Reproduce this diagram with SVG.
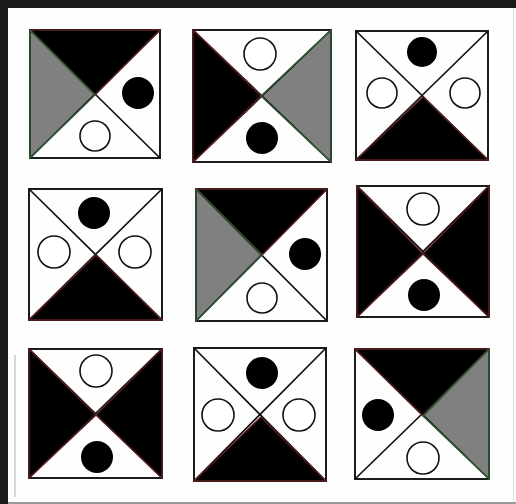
<svg xmlns="http://www.w3.org/2000/svg" width="516" height="504" viewBox="0 0 516 504">
<style>
.k{fill:#000}
.g{fill:#808080}
.w{fill:#fff}
.frame{fill:none;stroke:#111;stroke-width:1.9}
.d{stroke:#111;stroke-width:1.7;fill:none}
.kb{fill:none;stroke:#5a1c1c;stroke-width:1.4;stroke-linejoin:round}
.gb{fill:none;stroke:#2f5e35;stroke-width:1.4;stroke-linejoin:round}
.cw{fill:#fff;stroke:#111;stroke-width:1.6}
.cb{fill:#000}
</style>
<rect x="0" y="0" width="516" height="504" fill="#1b1b1b"/>
<rect x="8" y="8" width="508" height="494" fill="#fefefe"/>
<rect x="8" y="502" width="508" height="2" fill="#9a9a9a"/>
<line x1="513.5" y1="9" x2="513.5" y2="502" stroke="#e2e2e2" stroke-width="1"/>
<line x1="15" y1="355" x2="15" y2="497" stroke="#b0b0b0" stroke-width="1"/>

<g id="sq1">
<polygon class="k" points="30,30 160,30 95,95"/>
<polygon class="g" points="30,158 30,30 95,95"/>
<rect class="frame" x="30" y="30" width="130" height="128"/>
<path class="d" d="M30,30L160,158M160,30L30,158"/>
<polygon class="kb" points="30,30 160,30 95,95"/>
<polygon class="gb" points="30,158 30,30 95,95"/>
<circle class="cb" cx="138" cy="93" r="16"/>
<circle class="cw" cx="95" cy="136" r="15"/>
</g>

<g id="sq2">
<polygon class="k" points="193,30 193,162 261,96"/>
<polygon class="g" points="331,30 331,162 261,96"/>
<rect class="frame" x="193" y="30" width="138" height="132"/>
<path class="d" d="M193,30L331,162M331,30L193,162"/>
<polygon class="kb" points="193,30 193,162 261,96"/>
<polygon class="gb" points="331,30 331,162 261,96"/>
<circle class="cw" cx="260" cy="54" r="16"/>
<circle class="cb" cx="262" cy="138" r="16"/>
</g>

<g id="sq3">
<polygon class="k" points="356,160 488,160 423,97"/>
<rect class="frame" x="356" y="31" width="132" height="129"/>
<path class="d" d="M356,31L488,160M488,31L356,160"/>
<polygon class="kb" points="356,160 488,160 423,97"/>
<circle class="cb" cx="422" cy="52" r="15"/>
<circle class="cw" cx="382" cy="93" r="15"/>
<circle class="cw" cx="465" cy="93" r="15"/>
</g>

<g id="sq4">
<polygon class="k" points="29,320 162,320 96,255"/>
<rect class="frame" x="29" y="189" width="133" height="131"/>
<path class="d" d="M29,189L162,320M162,189L29,320"/>
<polygon class="kb" points="29,320 162,320 96,255"/>
<circle class="cb" cx="94" cy="213" r="16"/>
<circle class="cw" cx="54" cy="252" r="16"/>
<circle class="cw" cx="135" cy="252" r="16"/>
</g>

<g id="sq5">
<polygon class="k" points="196,189 327,189 262,255"/>
<polygon class="g" points="196,321 196,189 262,255"/>
<rect class="frame" x="196" y="189" width="131" height="132"/>
<path class="d" d="M196,189L327,321M327,189L196,321"/>
<polygon class="kb" points="196,189 327,189 262,255"/>
<polygon class="gb" points="196,321 196,189 262,255"/>
<circle class="cb" cx="305" cy="254" r="16"/>
<circle class="cw" cx="262" cy="298" r="15"/>
</g>

<g id="sq6">
<polygon class="k" points="357,186 357,317 423,254"/>
<polygon class="k" points="489,186 489,317 423,254"/>
<rect class="frame" x="357" y="186" width="132" height="131"/>
<path class="d" d="M357,186L489,317M489,186L357,317"/>
<polygon class="kb" points="357,186 357,317 423,254"/>
<polygon class="kb" points="489,186 489,317 423,254"/>
<circle class="cw" cx="423" cy="209" r="16"/>
<circle class="cb" cx="424" cy="295" r="16"/>
</g>

<g id="sq7">
<polygon class="k" points="29,349 29,478 96,415"/>
<polygon class="k" points="162,349 162,478 96,415"/>
<rect class="frame" x="29" y="349" width="133" height="129"/>
<path class="d" d="M29,349L162,478M162,349L29,478"/>
<polygon class="kb" points="29,349 29,478 96,415"/>
<polygon class="kb" points="162,349 162,478 96,415"/>
<circle class="cw" cx="96" cy="371" r="16"/>
<circle class="cb" cx="97" cy="457" r="16"/>
</g>

<g id="sq8">
<polygon class="k" points="194,481 326,481 261,417"/>
<rect class="frame" x="194" y="348" width="132" height="133"/>
<path class="d" d="M194,348L326,481M326,348L194,481"/>
<polygon class="kb" points="194,481 326,481 261,417"/>
<circle class="cb" cx="262" cy="373" r="16"/>
<circle class="cw" cx="218" cy="415" r="16"/>
<circle class="cw" cx="299" cy="415" r="16"/>
</g>

<g id="sq9">
<polygon class="k" points="355,349 489,349 423,416"/>
<polygon class="g" points="489,349 489,479 423,416"/>
<rect class="frame" x="355" y="349" width="134" height="130"/>
<path class="d" d="M355,349L489,479M489,349L355,479"/>
<polygon class="kb" points="355,349 489,349 423,416"/>
<polygon class="gb" points="489,349 489,479 423,416"/>
<circle class="cb" cx="378" cy="415" r="16"/>
<circle class="cw" cx="423" cy="458" r="16"/>
</g>
</svg>
